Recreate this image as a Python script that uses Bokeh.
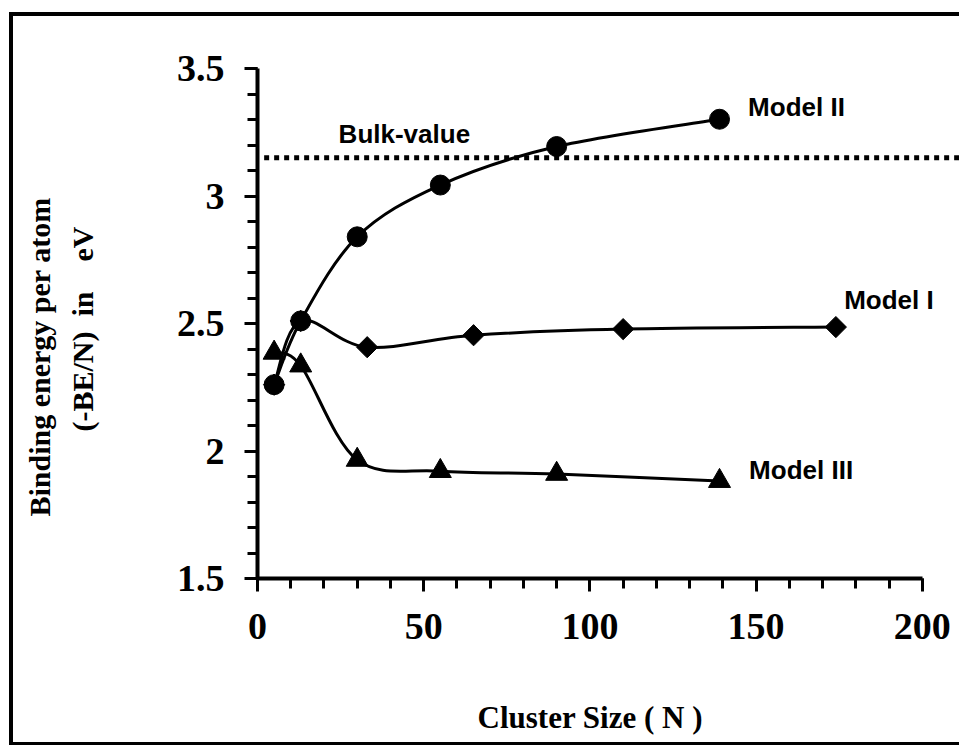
import numpy as np
from bokeh.plotting import figure
from bokeh.models import (Label, Title, SingleIntervalTicker, CustomJSTickFormatter, Range1d,
                          LinearAxis, FixedTicker)
from bokeh.embed import file_html
from bokeh.resources import INLINE

# ---- data ----
model1_n = [5, 13, 33, 65, 110, 174]
model1_be = [2.26, 2.51, 2.407, 2.454, 2.478, 2.486]

model2_n = [5, 13, 30, 55, 90, 139]
model2_be = [2.26, 2.51, 2.84, 3.043, 3.194, 3.301]

model3_n = [5, 13, 30, 55, 90, 139]
model3_be = [2.385, 2.335, 1.965, 1.921, 1.910, 1.882]

bulk_value = 3.15
bulk_n = [2, 215]

series_names = ["Model I", "Model II", "Model III"]
x_title = "Cluster Size ( N )"
y_title_1 = "Binding energy per atom"
y_title_2 = "(-BE/N) \u00a0in \u00a0 \u00a0eV"


def smooth_segments(xs, ys):
    """Catmull-Rom style Bezier control points (like a spreadsheet's smoothed line)."""
    x = np.asarray(xs, float)
    y = np.asarray(ys, float)
    xp = np.concatenate([[x[0]], x, [x[-1]]])
    yp = np.concatenate([[y[0]], y, [y[-1]]])
    return dict(
        x0=xp[1:-2], y0=yp[1:-2],
        x1=xp[2:-1], y1=yp[2:-1],
        cx0=xp[1:-2] + (xp[2:-1] - xp[0:-3]) / 6.0,
        cy0=yp[1:-2] + (yp[2:-1] - yp[0:-3]) / 6.0,
        cx1=xp[2:-1] - (xp[3:] - xp[1:-2]) / 6.0,
        cy1=yp[2:-1] - (yp[3:] - yp[1:-2]) / 6.0,
    )


p = figure(
    width=950, height=733,
    x_range=Range1d(0, 212.4), y_range=Range1d(1.5, 3.5),
    output_backend="svg", toolbar_location=None,
    min_border_left=244, min_border_right=0,
    min_border_top=52, min_border_bottom=171,
    background_fill_color="white", border_fill_color="white",
)
p.outline_line_color = None
p.grid.visible = False
p.styles = {
    "margin-left": "9px",
    "margin-top": "12px",
    "border-left": "4px solid black",
    "border-top": "4px solid black",
    "border-bottom": "3px solid black",
}

# axes
for ax in (p.xaxis[0], p.yaxis[0]):
    ax.axis_line_width = 4
    ax.axis_line_color = "black"
    ax.major_tick_line_width = 3
    ax.minor_tick_line_width = 3
    ax.major_tick_line_color = "black"
    ax.minor_tick_line_color = "black"
    ax.major_tick_in = 0
    ax.minor_tick_in = 0
    ax.major_tick_out = 13
    ax.minor_tick_out = 10
    ax.major_label_text_font = "Liberation Serif"
    ax.major_label_text_font_style = "bold"
    ax.major_label_text_font_size = "38px"
    ax.major_label_text_color = "black"

xa = p.xaxis[0]
xa.ticker = SingleIntervalTicker(interval=50, num_minor_ticks=5)
xa.bounds = (0, 200)
xa.major_label_standoff = 22

ya = p.yaxis[0]
ya.ticker = SingleIntervalTicker(interval=0.5, num_minor_ticks=5)
ya.formatter = CustomJSTickFormatter(code="return tick.toString();")
ya.major_label_standoff = 20

# bulk value dotted line
p.line(bulk_n, [bulk_value, bulk_value], line_color="black", line_width=5, line_dash="5 5")

# smoothed curves
for xs, ys in ((model1_n, model1_be), (model2_n, model2_be), (model3_n, model3_be)):
    p.bezier(line_color="black", line_width=3, **smooth_segments(xs, ys))

# markers
p.scatter(model1_n, model1_be, marker="square", angle=np.pi / 4, size=15, color="black")
p.scatter(model3_n, model3_be, marker="triangle", size=22, color="black")
p.scatter(model2_n, model2_be, marker="circle", size=20, color="black")

# series labels
lab_kw = dict(text_font="Liberation Sans", text_font_style="bold", text_font_size="26px",
              text_color="black", text_align="left", text_baseline="middle")
p.add_layout(Label(x=147.6, y=3.349, text=series_names[1], **lab_kw))
p.add_layout(Label(x=176.5, y=2.593, text=series_names[0], **lab_kw))
p.add_layout(Label(x=147.9, y=1.925, text=series_names[2], **lab_kw))
p.add_layout(Label(x=24.4, y=3.242, text="Bulk-value", **lab_kw))


def spacer_axis(gap, tick):
    """A blank axis (white tick on white, no line, no labels) used only as a gap in a side panel."""
    return LinearAxis(ticker=FixedTicker(ticks=[tick], minor_ticks=[]), axis_line_color=None,
                      major_tick_out=gap, minor_tick_out=0, major_tick_in=0, minor_tick_in=0,
                      major_tick_line_color="white", major_tick_line_width=1,
                      minor_tick_line_color=None,
                      major_label_standoff=0, major_label_text_color=None,
                      major_label_text_font_size="1px")


# axis titles (side-panel titles, with blank spacer axes for one-sided gaps)
ttl_kw = dict(text_font="Liberation Serif", text_font_style="bold", text_color="black")

p.add_layout(spacer_axis(56, 100), "below")
p.add_layout(Title(text=x_title, text_font_size="31px", align="left", offset=220,
                   standoff=0, **ttl_kw), "below")

p.add_layout(spacer_axis(75, 2.5), "left")
p.add_layout(Title(text=y_title_2, text_font_size="30px", align="left", offset=147,
                   standoff=0, **ttl_kw), "left")
p.add_layout(Title(text=y_title_1, text_font_size="30px", align="left", offset=62,
                   standoff=15, **ttl_kw), "left")

open("out.html", "w").write(file_html(p, INLINE))
